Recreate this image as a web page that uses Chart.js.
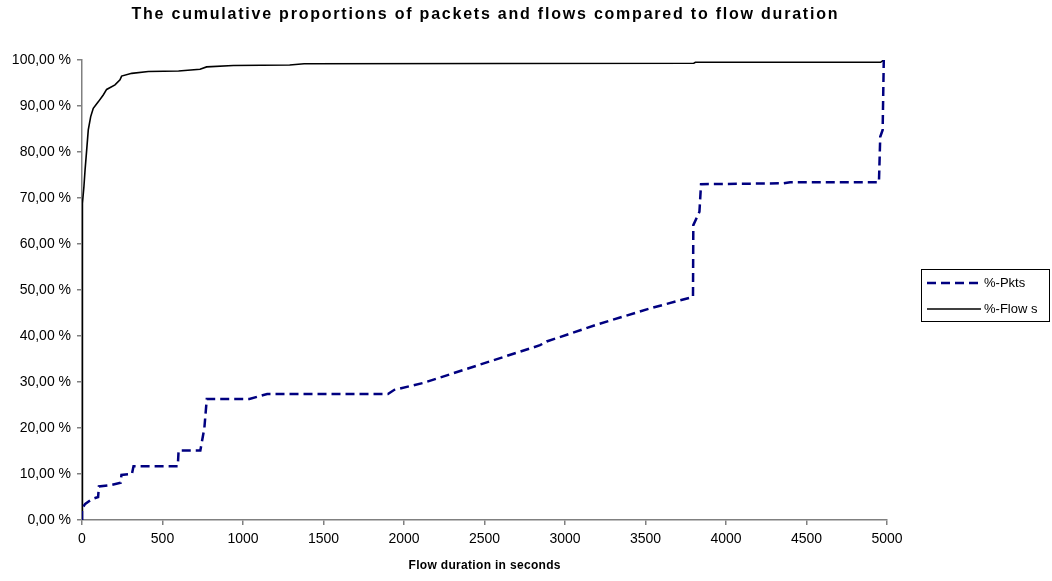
<!DOCTYPE html>
<html>
<head>
<meta charset="utf-8">
<script src="https://cdn.jsdelivr.net/npm/chart.js@4.4.1/dist/chart.umd.min.js"></script>
<style>
html,body{margin:0;padding:0;background:#fff;}
canvas{display:block;}
</style>
</head>
<body>
<canvas id="c" width="1052" height="581"></canvas>
<script>
const chartTitle = "The cumulative proportions of packets and flows compared to flow duration";
const xAxisTitle = "Flow duration in seconds";
const seriesNames = ["%-Pkts", "%-Flow s"];

const pktsX = [0, 0, 20, 60, 100, 105, 180, 240, 245, 310, 320, 595, 600, 735, 760, 775, 1040, 1150, 1900, 1940, 2120, 2500, 2845, 2886, 3200, 3528, 3795, 3797, 3835, 3845, 4356, 4398, 4950, 4958, 4973, 4980];
const pktsY = [0, 2.5, 3.5, 4.5, 5.0, 7.3, 7.6, 8.1, 9.8, 10.0, 11.7, 11.7, 15.1, 15.1, 20, 26.3, 26.3, 27.4, 27.4, 28.3, 29.8, 34.1, 38.0, 38.8, 42.5, 46.0, 48.5, 64.1, 67.0, 73.0, 73.2, 73.4, 73.4, 83.3, 84.8, 100];

const flowsX = [0, 0, 4, 4, 12, 19, 29, 39, 54, 70, 101, 132, 153, 205, 236, 246, 309, 412, 600, 733, 774, 940, 1290, 1380, 3800, 3810, 4960, 4980];
const flowsY = [0, 55, 63, 68.8, 72.5, 76.1, 80.4, 84.8, 87.7, 89.5, 90.9, 92.4, 93.6, 94.6, 95.7, 96.5, 97.1, 97.5, 97.6, 98.0, 98.5, 98.8, 98.9, 99.2, 99.3, 99.5, 99.5, 100];

const xTicks = [0, 500, 1000, 1500, 2000, 2500, 3000, 3500, 4000, 4500, 5000];
const yTicks = [0, 10, 20, 30, 40, 50, 60, 70, 80, 90, 100];

const FONT = "'Liberation Sans', Arial, sans-serif";
const toPts = (xs, ys) => xs.map((x, i) => ({x: x, y: ys[i]}));

function fitText(ctx, text, cx, cy, targetWidth) {
  ctx.letterSpacing = '0px';
  const w = ctx.measureText(text).width;
  const ls = Math.max(0, (targetWidth - w) / (text.length - 1));
  ctx.letterSpacing = ls.toFixed(2) + 'px';
  ctx.textAlign = 'left';
  ctx.fillText(text, cx - targetWidth / 2, cy);
  ctx.letterSpacing = '0px';
}

const overlay = {
  id: 'overlay',
  afterDraw(chart) {
    const ctx = chart.ctx;
    const a = chart.chartArea;
    ctx.save();
    ctx.fillStyle = '#000';
    ctx.textBaseline = 'middle';
    ctx.font = "bold 16px " + FONT;
    fitText(ctx, chartTitle, (a.left + a.right) / 2, 15, 706);
    ctx.font = "bold 12px " + FONT;
    fitText(ctx, xAxisTitle, (a.left + a.right) / 2, 566, 152);
    // legend box
    const lx = 921.5, ly = 269.5, lw = 128, lh = 52;
    ctx.strokeStyle = '#000';
    ctx.lineWidth = 1;
    ctx.strokeRect(lx, ly, lw, lh);
    const ds = chart.data.datasets;
    const rows = [283, 309];
    ds.forEach((d, i) => {
      ctx.beginPath();
      ctx.strokeStyle = d.borderColor;
      ctx.lineWidth = d.borderWidth;
      ctx.setLineDash(d.borderDash || []);
      ctx.moveTo(927, rows[i]);
      ctx.lineTo(981, rows[i]);
      ctx.stroke();
      ctx.setLineDash([]);
      ctx.fillStyle = '#000';
      ctx.font = "13px " + FONT;
      ctx.textAlign = 'left';
      ctx.fillText(d.label, 984, rows[i]);
    });
    ctx.restore();
  }
};

new Chart(document.getElementById('c'), {
  type: 'scatter',
  data: {
    datasets: [
      {
        label: seriesNames[0],
        data: toPts(pktsX, pktsY),
        showLine: true,
        borderColor: '#000080',
        backgroundColor: '#000080',
        borderWidth: 2.5,
        borderDash: [9, 5],
        pointRadius: 0,
        tension: 0,
        fill: false
      },
      {
        label: seriesNames[1],
        data: toPts(flowsX, flowsY),
        showLine: true,
        borderColor: '#000000',
        backgroundColor: '#000000',
        borderWidth: 1.6,
        pointRadius: 0,
        tension: 0,
        fill: false
      }
    ]
  },
  options: {
    responsive: false,
    animation: false,
    devicePixelRatio: 1,
    layout: { padding: { top: 60, right: 165, bottom: 0, left: 0 } },
    plugins: {
      legend: { display: false },
      title: { display: false },
      tooltip: { enabled: false }
    },
    scales: {
      x: {
        type: 'linear',
        min: 0, max: 5000,
        afterBuildTicks(s) { s.ticks = xTicks.map(v => ({value: v})); },
        afterFit(s) { s.height = 61; },
        border: { display: true, color: '#808080', width: 1.5 },
        grid: { display: true, drawOnChartArea: false, drawTicks: true, tickLength: 5, color: '#808080', lineWidth: 1.5 },
        ticks: { color: '#000', font: { family: FONT, size: 14 }, padding: 6, maxRotation: 0, autoSkip: false,
          callback: v => String(v) }
      },
      y: {
        type: 'linear',
        min: 0, max: 100,
        afterBuildTicks(s) { s.ticks = yTicks.map(v => ({value: v})); },
        afterFit(s) { s.width = 82; },
        border: { display: true, color: '#808080', width: 1.5 },
        grid: { display: true, drawOnChartArea: false, drawTicks: true, tickLength: 5, color: '#808080', lineWidth: 1.5 },
        ticks: {
          color: '#000', font: { family: FONT, size: 14 }, padding: 6, autoSkip: false,
          callback: v => v.toFixed(2).replace('.', ',') + ' %'
        }
      }
    }
  },
  plugins: [overlay]
});
</script>
</body>
</html>
